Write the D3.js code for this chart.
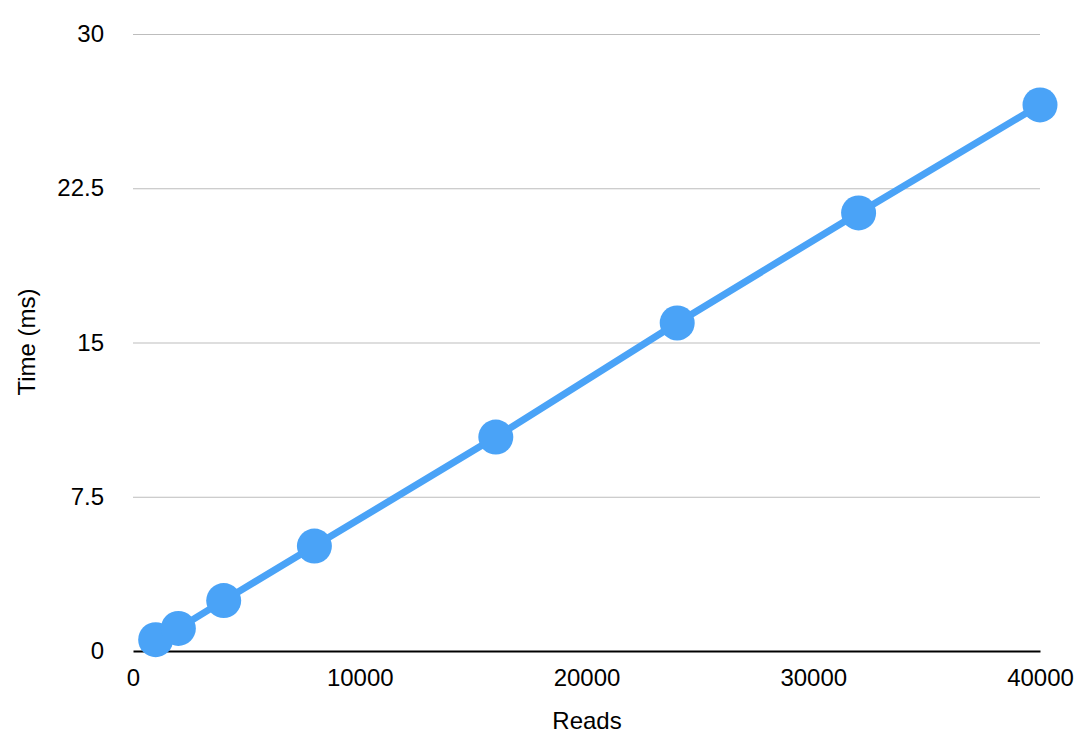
<!DOCTYPE html>
<html><head><meta charset="utf-8">
<script src="https://cdn.jsdelivr.net/npm/d3@7"></script>
<style>body{margin:0;background:#fff;} text{font-family:"Liberation Sans",Arial,Helvetica,sans-serif;}</style>
</head><body>
<svg id="c" width="1092" height="746"></svg>
<script>
const reads = [1000, 2000, 4000, 8000, 16000, 24000, 32000, 40000];
const times = [0.55, 1.1, 2.45, 5.1, 10.4, 15.95, 21.3, 26.55];
const xTicks = [0, 10000, 20000, 30000, 40000];
const yTicks = [0, 7.5, 15, 22.5, 30];
const xLabel = "Reads";
const yLabel = "Time (ms)";

const svg = d3.select("#c");
const x = d3.scaleLinear().domain([0, 40000]).range([133, 1040]);
const y = d3.scaleLinear().domain([0, 30]).range([651, 34]);

const yAxis = svg.append("g").attr("transform", "translate(133,0)")
  .call(d3.axisLeft(y).tickValues(yTicks).tickSize(-907).tickFormat(d => String(d)).tickPadding(29));
yAxis.select(".domain").remove();
yAxis.selectAll(".tick line").attr("stroke", "#bdbdbd").attr("stroke-width", 1);
yAxis.selectAll(".tick text").attr("font-size", 24).attr("fill", "#000");
yAxis.selectAll(".tick").filter(d => d === 0).select("line").remove();

const xAxis = svg.append("g").attr("transform", "translate(0,651)")
  .call(d3.axisBottom(x).tickValues(xTicks).tickSize(0).tickFormat(d => String(d)).tickPadding(18));
xAxis.select(".domain").attr("stroke", "#000").attr("stroke-width", 2);
xAxis.selectAll(".tick text").attr("font-size", 24).attr("fill", "#000");

svg.append("text").attr("x", 587).attr("y", 729).attr("text-anchor", "middle")
  .attr("font-size", 24).text(xLabel);
svg.append("text").attr("transform", "translate(35,342) rotate(-90)").attr("text-anchor", "middle")
  .attr("font-size", 24).text(yLabel);

const data = reads.map((r, i) => ({r, t: times[i]}));
svg.append("path").datum(data)
  .attr("fill", "none").attr("stroke", "#4aa3f7").attr("stroke-width", 7)
  .attr("d", d3.line().x(d => x(d.r)).y(d => y(d.t)));
svg.selectAll("circle.pt").data(data).join("circle").attr("class", "pt")
  .attr("cx", d => x(d.r)).attr("cy", d => y(d.t)).attr("r", 17.5).attr("fill", "#4aa3f7");
</script>
</body></html>
